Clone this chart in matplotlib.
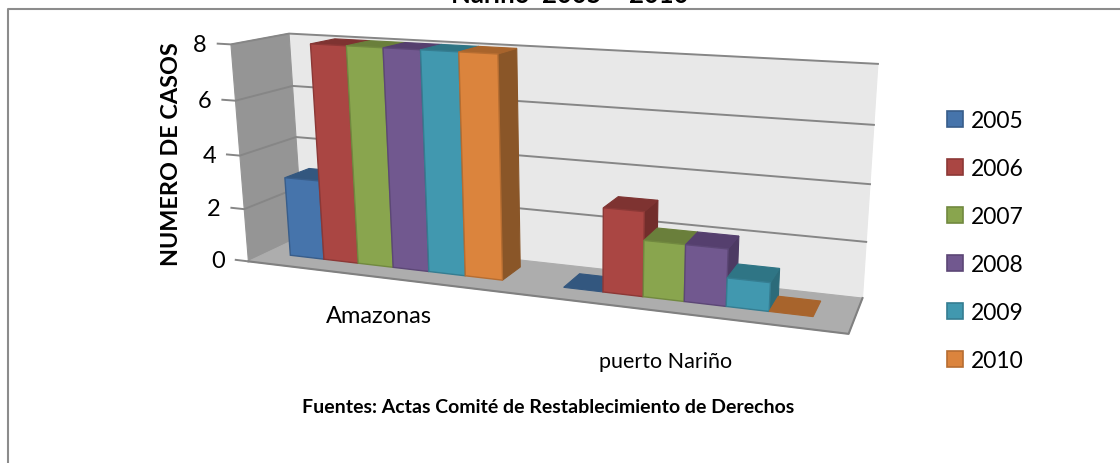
# Casos por municipio, 2005 - 2010: column chart drawn with a fitted 3D projection
import matplotlib

matplotlib.use("Agg")
import matplotlib.pyplot as plt
import numpy as np
from matplotlib.patches import Polygon, Patch

plt.rcParams["font.family"] = ["Lato", "DejaVu Sans"]

# Data
years = ["2005", "2006", "2007", "2008", "2009", "2010"]
amazonas = [3, 8, 8, 8, 8, 8]
puerto_narino = [0, 3, 2, 2, 1, 0]
categories = ["Amazonas", "puerto Nariño"]
y_ticks = [0, 2, 4, 6, 8]

front_colors = ["#4674AB", "#AA4643", "#89A54E", "#71588F", "#4198AF", "#DB843D"]
top_colors = ["#33577F", "#7E3331", "#6A7F3B", "#553F6E", "#2F7585", "#A8642C"]
side_colors = ["#2F5077", "#722D2B", "#5F7235", "#4D3A63", "#2C6B7A", "#8A5628"]
edge_colors = ["#385D8A", "#8C3836", "#71893F", "#5C4776", "#357D91", "#B66D31"]

# Box corners (x, depth, value) and where they land in the picture, used to fit the camera
box_pts = [(0, 0, 0), (1, 0, 0), (0, 1, 0), (1, 1, 0), (0, 0, 8), (0, 1, 8), (1, 1, 8)]
pix_pts = [(247, 259), (849, 337), (304, 240), (862, 297), (232, 47), (288, 33), (878, 65)]
z_scale = 1 / 8


def fit_camera(box, pix):
    rows = []
    for (x, d, z), (u, v) in zip(box, pix):
        p = [x, d, z * z_scale, 1]
        rows.append(p + [0, 0, 0, 0] + [-u * c for c in p])
        rows.append([0, 0, 0, 0] + p + [-v * c for c in p])
    return np.linalg.svd(np.array(rows, dtype=float))[2][-1].reshape(3, 4)


camera = fit_camera(box_pts, pix_pts)


def project(x, d, z):
    u, v, w = camera @ np.array([x, d, z * z_scale, 1.0])
    return u / w, v / w


def face(ax, corners, color, edge=None, lw=0.8, zorder=2):
    pts = [project(*c) for c in corners]
    ax.add_patch(
        Polygon(pts, closed=True, facecolor=color, edgecolor=edge or color, linewidth=lw, zorder=zorder)
    )


def draw_bar(ax, x0, x1, d0, d1, value, i):
    # top and right side first, the front goes over them
    if value > 0:
        face(ax, [(x1, d0, 0), (x1, d1, 0), (x1, d1, value), (x1, d0, value)], side_colors[i])
        face(ax, [(x0, d0, value), (x1, d0, value), (x1, d1, value), (x0, d1, value)], top_colors[i])
        face(ax, [(x0, d0, 0), (x1, d0, 0), (x1, d0, value), (x0, d0, value)], front_colors[i], edge_colors[i], 1.0)
    else:
        face(ax, [(x0, d0, 0), (x1, d0, 0), (x1, d1, 0), (x0, d1, 0)], top_colors[i])


fig = plt.figure(figsize=(11.2, 4.64), dpi=100)
ax = fig.add_axes([0, 0, 1, 1])
ax.set_xlim(0, 1120)
ax.set_ylim(464, 0)
ax.axis("off")

# Chart frame: only the top and left sides show
ax.plot([8, 8, 1125], [470, 10, 10], color="#8C8C8C", lw=1.5, zorder=1)

# Walls and floor
face(ax, [(0, 1, 0), (1, 1, 0), (1, 1, 8), (0, 1, 8)], "#E8E8E8", zorder=1)
face(ax, [(0, 0, 0), (0, 1, 0), (0, 1, 8), (0, 0, 8)], "#959595", zorder=1)
face(ax, [(0, 0, 0), (1, 0, 0), (1, 1, 0), (0, 1, 0)], "#ADADAD", zorder=1)
edge = np.array([project(0, 0, 0), project(1, 0, 0), project(1, 1, 0)])
ax.plot(edge[:, 0], edge[:, 1], color="#808080", lw=1.5, zorder=1.5)

# Gridlines, ticks and their labels
for t in y_ticks:
    line = np.array([project(-0.025, 0, t), project(0, 0, t), project(0, 1, t), project(1, 1, t)])
    if t > 0:
        ax.plot(line[:, 0], line[:, 1], color="#868686", lw=1.4, zorder=1.5)
    else:
        ax.plot(line[:2, 0], line[:2, 1], color="#868686", lw=1.4, zorder=1.5)
    ax.text(line[0, 0] - 11, line[0, 1] + 1, str(t), ha="right", va="center", fontsize=17, color="black")

# Bars
gap = 1.6
bar_w = 0.5 / (len(years) + gap)
x_shift = -0.0065
d_front, d_back = 0.33, 0.78
for c, values in enumerate([amazonas, puerto_narino]):
    for i, value in enumerate(values):
        x0 = c * 0.5 + (gap / 2 + i) * bar_w + x_shift
        draw_bar(ax, x0, x0 + bar_w, d_front, d_back, value, i)

# Texts
ax.text(570, 3, "Nariño  2005 – 2010", ha="center", va="baseline", fontsize=18.5, fontweight="bold", color="black", clip_on=False)
ax.text(172, 154, "NUMERO DE CASOS", rotation=90, ha="center", va="center", fontsize=16.8, fontweight="bold")
ax.text(379, 317, categories[0], ha="center", va="center", fontsize=17)
ax.text(666, 362, categories[1], ha="center", va="center", fontsize=15.5)
ax.text(548, 408, "Fuentes: Actas Comité de Restablecimiento de Derechos", ha="center", va="center", fontsize=14, fontweight="bold")

# Legend
handles = [Patch(facecolor=f, edgecolor=e, linewidth=1.2) for f, e in zip(front_colors, edge_colors)]
ax.legend(
    handles,
    years,
    loc="upper left",
    bbox_to_anchor=(947 / 1120, 1 - 111 / 464),
    borderaxespad=0,
    borderpad=0,
    frameon=False,
    fontsize=16.5,
    handlelength=0.7,
    handleheight=0.7,
    handletextpad=0.35,
    labelspacing=1.18,
)

fig.savefig("out.png", dpi=100)
